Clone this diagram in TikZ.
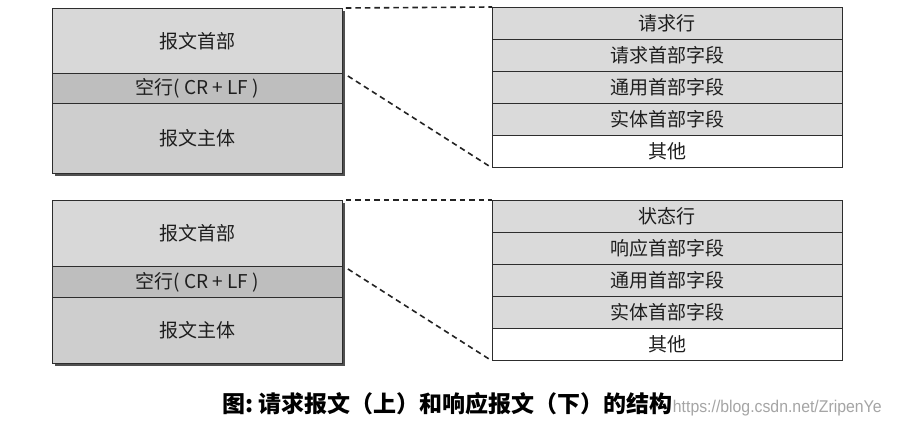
\documentclass[tikz,border=0pt]{standalone}
\usepackage{fontspec}
\newfontfamily\cjk{Noto Sans CJK SC}
\newfontfamily\wmfont[FakeStretch=0.93]{Liberation Sans}
\definecolor{rowA}{RGB}{216,216,216}
\definecolor{rowB}{RGB}{190,190,190}
\definecolor{rowC}{RGB}{206,206,206}
\definecolor{rowR}{RGB}{218,218,218}
\definecolor{edge}{RGB}{45,45,45}
\definecolor{shadowc}{RGB}{80,80,80}
\definecolor{txt}{RGB}{30,30,30}
\begin{document}
\begin{tikzpicture}[x=1pt,y=-1pt,
  cell/.style={draw=edge, line width=0.9pt, rectangle, anchor=north west, inner sep=0pt,
    text=txt, font=\cjk\fontsize{19}{21}\selectfont},
  lcell/.style={cell, minimum width=290pt},
  rcell/.style={cell, minimum width=350pt, minimum height=32pt},
  link/.style={draw={rgb,255:red,35;green,35;blue,35}, line width=1.6pt, dash pattern=on 5.5pt off 4pt},
  shade/.style={fill=shadowc}]
\useasboundingbox[fill=white] (0,0) rectangle (897,427);
% ---------- top: request ----------
\fill[shade] (55,11) rectangle (345,176);
\node[lcell, fill=rowA, minimum height=65pt] (th) at (52,8) {报文首部};
\node[lcell, fill=rowB, minimum height=30pt] (tb) at (52,73) {空行( CR + LF )};
\node[lcell, fill=rowC, minimum height=70pt] (tm) at (52,103) {报文主体};
\node[rcell, fill=rowR] (r1) at (492,7) {请求行};
\node[rcell, fill=rowR] (r2) at (492,39) {请求首部字段};
\node[rcell, fill=rowR] (r3) at (492,71) {通用首部字段};
\node[rcell, fill=rowR] (r4) at (492,103) {实体首部字段};
\node[rcell, fill=white] (r5) at (492,135) {其他};
\draw[link] ([xshift=3pt]th.north east) -- (r1.north west);
\draw[link] ([xshift=5pt,yshift=-3pt]tb.north east) -- (r5.south west);
% ---------- bottom: response ----------
\fill[shade] (55,203) rectangle (345,366);
\node[lcell, fill=rowA, minimum height=66pt] (bh) at (52,200) {报文首部};
\node[lcell, fill=rowB, minimum height=31pt] (bb) at (52,266) {空行( CR + LF )};
\node[lcell, fill=rowC, minimum height=66pt] (bm) at (52,297) {报文主体};
\node[rcell, fill=rowR] (s1) at (492,200) {状态行};
\node[rcell, fill=rowR] (s2) at (492,232) {响应首部字段};
\node[rcell, fill=rowR] (s3) at (492,264) {通用首部字段};
\node[rcell, fill=rowR] (s4) at (492,296) {实体首部字段};
\node[rcell, fill=white] (s5) at (492,328) {其他};
\draw[link] ([xshift=3pt]bh.north east) -- (s1.north west);
\draw[link] ([xshift=5pt,yshift=-3pt]bb.north east) -- (s5.south west);
% ---------- caption ----------
\node[anchor=base west, inner sep=0pt, text=black, font=\cjk\bfseries\fontsize{23}{25}\selectfont] (cap) at (222,413) {图:\ 请求报文（上）和响应报文（下）的结构};
\node[anchor=base west, inner sep=0pt, text={rgb,255:red,165;green,165;blue,165}, font=\wmfont\fontsize{17}{19}\selectfont] (wm) at (cap.base east) {https://blog.csdn.net/ZripenYe};
\end{tikzpicture}
\end{document}
